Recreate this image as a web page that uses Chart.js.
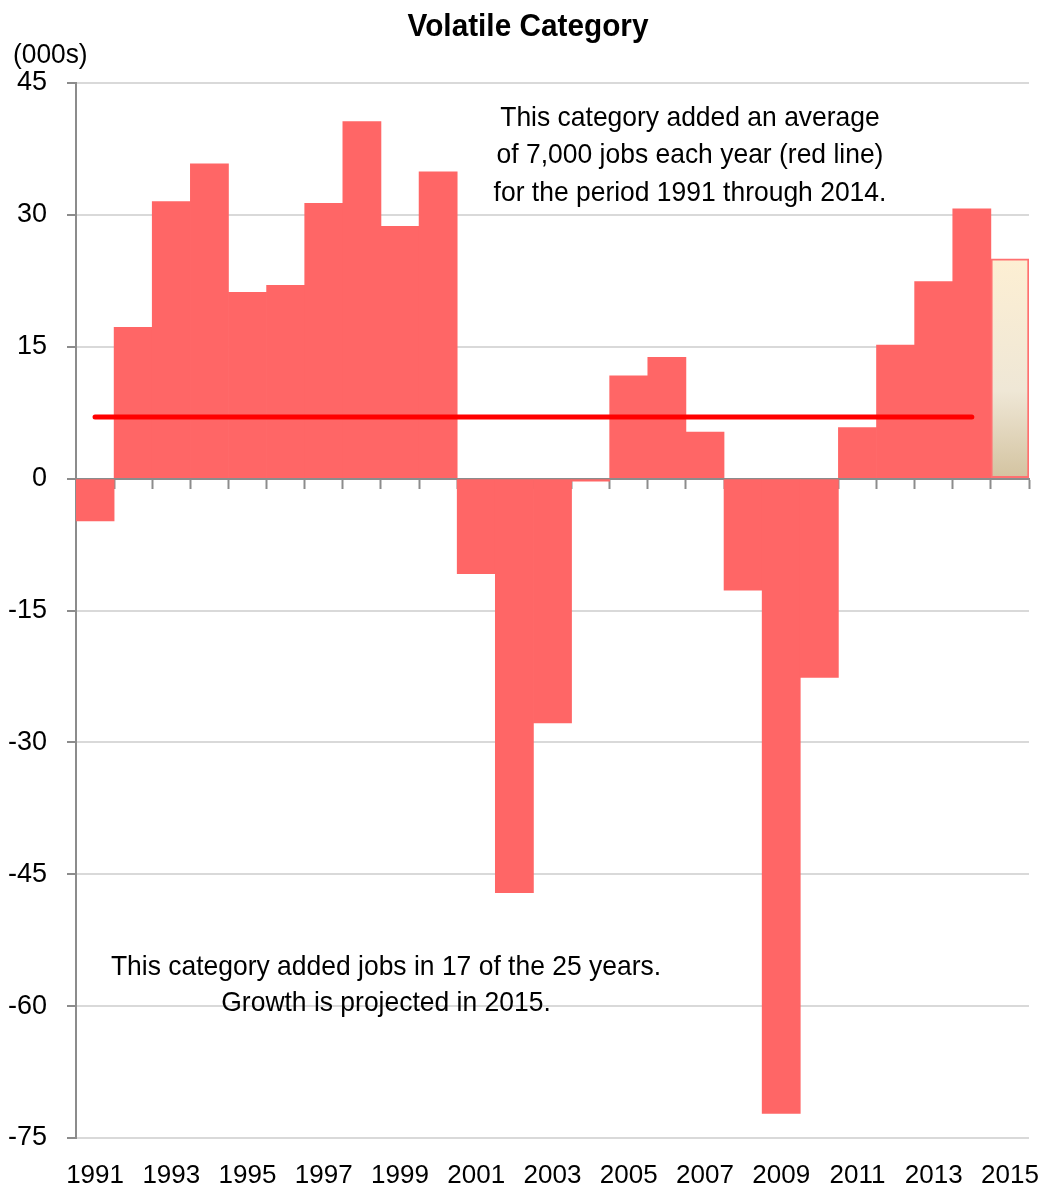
<!DOCTYPE html>
<html>
<head>
<meta charset="utf-8">
<title>Volatile Category</title>
<script src="https://cdn.jsdelivr.net/npm/chart.js@4/dist/chart.umd.min.js"></script>
<style>
  html, body { margin: 0; padding: 0; background: #fff; }
  #wrap { position: relative; width: 1041px; height: 1192px; }
</style>
</head>
<body>
<div id="wrap"><canvas id="chart" width="1041" height="1192"></canvas></div>
<script>
const FONT = '"Liberation Sans Narrow", "Liberation Sans", Arial, sans-serif';

// years on the category axis
const years = ['1991', '1992', '1993', '1994', '1995', '1996', '1997', '1998', '1999', '2000',
  '2001', '2002', '2003', '2004', '2005', '2006', '2007', '2008', '2009', '2010',
  '2011', '2012', '2013', '2014', '2015'];

// annual change in jobs (000s), 2015 is a projection
const jobChange = [-4.8, 17.2, 31.5, 35.8, 21.2, 22.0, 31.3, 40.6, 28.7, 34.9,
  -10.8, -47.1, -27.8, -0.3, 11.7, 13.8, 5.3, -12.7, -72.2, -22.6,
  5.8, 15.2, 22.4, 30.7, 25.0];

// average line 1991 through 2014
const averageLine = [7, 7, 7, 7, 7, 7, 7, 7, 7, 7, 7, 7, 7, 7, 7, 7, 7, 7, 7, 7, 7, 7, 7, 7, null];

const yTicks = [-75, -60, -45, -30, -15, 0, 15, 30, 45];

const topNote = [
  'This category added an average',
  'of 7,000 jobs each year (red line)',
  'for the period 1991 through 2014.'
];
const bottomNote = [
  'This category added jobs in 17 of the 25 years.',
  'Growth is projected in 2015.'
];

const barRed = '#FF6666';
const projIndex = years.indexOf('2015');

function barFill(ctx) {
  if (ctx.dataIndex !== projIndex) return barRed;
  const chart = ctx.chart;
  const area = chart.chartArea;
  if (!area) return '#F5E9D2';
  const yScale = chart.scales.y;
  const top = yScale.getPixelForValue(jobChange[projIndex]);
  const bottom = yScale.getPixelForValue(0);
  const g = chart.ctx.createLinearGradient(0, top, 0, bottom);
  g.addColorStop(0, '#FDEFD3');
  g.addColorStop(0.6, '#EFE7D6');
  g.addColorStop(1, '#D3C3A0');
  return g;
}

// text squeezed a little sideways, closer to the narrow face of the original
function narrowText(c, text, x, y, sx) {
  c.save();
  c.translate(x, y);
  c.scale(sx, 1);
  c.fillText(text, 0, 0);
  c.restore();
}

// title, unit label and the two notes
const textPlugin = {
  id: 'texts',
  afterDraw(chart) {
    const c = chart.ctx;
    c.save();
    c.fillStyle = '#000';
    c.textBaseline = 'middle';
    c.textAlign = 'center';
    c.font = 'bold 31px ' + FONT;
    narrowText(c, 'Volatile Category', 528, 27, 0.96);

    c.textAlign = 'left';
    c.font = '28px ' + FONT;
    narrowText(c, '(000s)', 13, 55, 0.94);

    c.textAlign = 'center';
    c.font = '28px ' + FONT;
    topNote.forEach((t, i) => narrowText(c, t, 690, 118 + i * 37.5, 0.945));
    bottomNote.forEach((t, i) => narrowText(c, t, 386, 967 + i * 36, 0.945));
    c.restore();
  }
};

new Chart(document.getElementById('chart'), {
  type: 'bar',
  data: {
    labels: years,
    datasets: [
      {
        type: 'line',
        data: averageLine,
        borderColor: '#FF0000',
        borderWidth: 5,
        borderCapStyle: 'round',
        pointRadius: 0,
        fill: false,
        order: 0
      },
      {
        type: 'bar',
        data: jobChange,
        backgroundColor: barFill,
        borderColor: ctx => ctx.dataIndex === projIndex ? '#FF7070' : barRed,
        borderWidth: ctx => ctx.dataIndex === projIndex ? 2 : 0,
        borderSkipped: false,
        categoryPercentage: 1,
        barPercentage: 1,
        order: 1
      }
    ]
  },
  options: {
    responsive: false,
    animation: false,
    devicePixelRatio: 1,
    layout: { padding: { top: 83, right: 12, left: 0, bottom: 0 } },
    plugins: {
      legend: { display: false },
      tooltip: { enabled: false }
    },
    scales: {
      x: {
        type: 'category',
        position: 'bottom',
        offset: true,
        grid: { display: false },
        border: { display: false },
        ticks: {
          autoSkip: false,
          maxRotation: 0,
          padding: 14,
          color: '#000',
          font: { family: FONT, size: 26 },
          callback: (v, i) => i % 2 === 0 ? years[i] : ''
        },
        afterFit: s => { s.height = 54; s.paddingLeft = 0; s.paddingRight = 0; }
      },
      zeroAxis: {
        type: 'category',
        axis: 'x',
        position: { y: 0 },
        offset: true,
        grid: {
          offset: true,
          drawOnChartArea: false,
          drawTicks: true,
          tickLength: 9,
          tickColor: '#8C8C8C',
          tickWidth: 2
        },
        border: { display: true, color: '#8C8C8C', width: 2 },
        ticks: { display: false },
        afterFit: s => { s.paddingLeft = 0; s.paddingRight = 0; }
      },
      y: {
        min: -75,
        max: 45,
        afterBuildTicks: s => { s.ticks = yTicks.map(v => ({ value: v })); },
        grid: {
          color: '#D9D9D9',
          lineWidth: 2,
          tickLength: 9,
          tickColor: '#8C8C8C',
          tickWidth: 2
        },
        border: { display: true, color: '#8C8C8C', width: 2 },
        ticks: {
          padding: 20,
          color: '#000',
          font: { family: FONT, size: 27 }
        },
        afterFit: s => { s.width = 76; }
      }
    }
  },
  plugins: [textPlugin]
});
</script>
</body>
</html>
